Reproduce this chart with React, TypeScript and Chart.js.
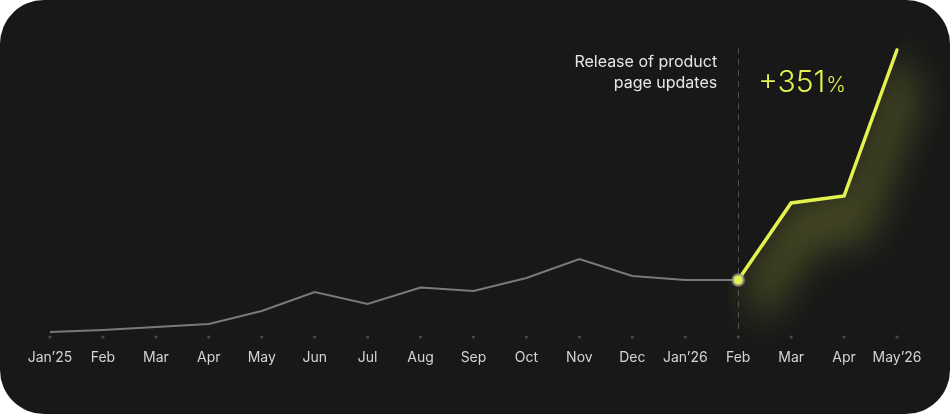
import React, { useEffect, useRef } from "react";
import { Chart, registerables } from "chart.js";

Chart.register(...registerables);

const months = ["Jan’25", "Feb", "Mar", "Apr", "May", "Jun", "Jul", "Aug", "Sep", "Oct", "Nov", "Dec", "Jan’26", "Feb", "Mar", "Apr", "May’26"];
const beforeRelease = [270, 310, 370, 430, 690, 1070, 830, 1160, 1090, 1350, 1730, 1390, 1310, 1310, null, null, null];
const afterRelease = [null, null, null, null, null, null, null, null, null, null, null, null, null, 1310, 2850, 2990, 5910];
const releaseIndex = 13;
const annotationLines = ["Release of product", "page updates"];
const growthValue = "+351";
const growthUnit = "%";

const YELLOW = "#e3f24f";
const FONT = "Inter, 'DejaVu Sans', sans-serif";

const decorPlugin = {
  id: "decor",
  beforeDatasetsDraw(chart: any) {
    const { ctx, chartArea, scales, width, height } = chart;
    const x = scales.x;
    const y = scales.y;
    ctx.save();
    // tick dots
    ctx.fillStyle = "#4a4a4a";
    for (let i = 0; i < months.length; i++) {
      const px = x.getPixelForTick(i);
      ctx.beginPath();
      ctx.arc(px, chartArea.bottom - 8.5, 1.6, 0, Math.PI * 2);
      ctx.fill();
    }
    // dashed release line
    const rx = x.getPixelForValue(releaseIndex);
    ctx.strokeStyle = "#4d4d4d";
    ctx.lineWidth = 1;
    ctx.setLineDash([6, 5]);
    ctx.beginPath();
    ctx.moveTo(Math.round(rx) + 0.5, chartArea.top + 8);
    ctx.lineTo(Math.round(rx) + 0.5, chartArea.bottom - 15);
    ctx.stroke();
    ctx.setLineDash([]);
    // glow below/right of yellow line
    const pts: [number, number][] = [];
    for (let i = releaseIndex; i < afterRelease.length; i++) {
      const v = afterRelease[i];
      if (v == null) continue;
      pts.push([x.getPixelForValue(i), y.getPixelForValue(v)]);
    }
    const last = pts[pts.length - 1];
    ctx.beginPath();
    pts.forEach((p, i) => (i === 0 ? ctx.moveTo(p[0], p[1]) : ctx.lineTo(p[0], p[1])));
    ctx.lineTo(last[0] + 20, last[1] - 60);
    ctx.lineTo(width, 0);
    ctx.lineTo(width, height);
    ctx.lineTo(pts[0][0] - 10, height);
    ctx.lineTo(pts[0][0] - 10, pts[0][1]);
    ctx.closePath();
    ctx.clip();
    ctx.filter = "blur(18px)";
    ctx.fillStyle = "rgba(227,242,79,0.22)";
    ctx.beginPath();
    pts.forEach((p, i) => (i === 0 ? ctx.moveTo(p[0] + 6, p[1] + 4) : ctx.lineTo(p[0], p[1] - 4)));
    for (let i = pts.length - 1; i >= 0; i--) {
      ctx.lineTo(pts[i][0] + 24, pts[i][1] + 46);
    }
    ctx.closePath();
    ctx.fill();
    ctx.filter = "none";
    ctx.restore();
  },
  afterDraw(chart: any) {
    const { ctx, scales } = chart;
    const rx = scales.x.getPixelForValue(releaseIndex);
    ctx.save();
    ctx.fillStyle = "#e6e6e6";
    ctx.font = `400 16px ${FONT}`;
    ctx.textAlign = "right";
    ctx.textBaseline = "alphabetic";
    ctx.fillText(annotationLines[0], rx - 21, 67);
    ctx.fillText(annotationLines[1], rx - 21, 88);
    ctx.textAlign = "left";
    ctx.fillStyle = YELLOW;
    ctx.font = `300 30px ${FONT}`;
    ctx.fillText(growthValue, rx + 20, 92);
    const w = ctx.measureText(growthValue).width;
    ctx.font = `300 21px ${FONT}`;
    ctx.fillText(growthUnit, rx + 21 + w, 92);
    ctx.restore();
  },
};

export default function App() {
  const ref = useRef<HTMLCanvasElement | null>(null);
  useEffect(() => {
    if (!ref.current) return;
    const chart = new Chart(ref.current, {
      type: "line",
      data: {
        labels: months,
        datasets: [
          {
            data: afterRelease,
            borderColor: YELLOW,
            borderWidth: 3.5,
            borderCapStyle: "round",
            borderJoinStyle: "miter",
            pointRadius: afterRelease.map((_, i) => (i === releaseIndex ? 5.5 : 0)),
            pointBackgroundColor: YELLOW,
            pointBorderColor: "rgba(140,140,140,0.6)",
            pointBorderWidth: 3,
            pointHoverRadius: 0,
            tension: 0,
            spanGaps: false,
            order: 0,
          },
          {
            data: beforeRelease,
            borderColor: "#7a7a7a",
            borderWidth: 2,
            pointRadius: 0,
            tension: 0,
            order: 1,
          },
        ],
      },
      options: {
        animation: false,
        responsive: true,
        maintainAspectRatio: false,
        layout: { padding: { left: 50, right: 53, top: 40, bottom: 28.5 } },
        plugins: { legend: { display: false }, tooltip: { enabled: false } },
        events: [],
        scales: {
          x: {
            offset: false,
            grid: { display: false, drawTicks: false },
            border: { display: false },
            ticks: {
              color: "#d4d4d4",
              font: { family: FONT, size: 14 },
              padding: 4,
              maxRotation: 0,
              autoSkip: false,
            },
            afterFit(scale: any) {
              scale.height = 40;
            },
          },
          y: {
            display: false,
            min: 0,
            max: 6110,
          },
        },
      },
      plugins: [decorPlugin],
    });
    return () => chart.destroy();
  }, []);
  return (
    <div
      style={{
        position: "fixed",
        left: 0,
        top: 0,
        width: 950,
        height: 414,
        background: "#fff",
      }}
    >
      <div
        style={{
          position: "absolute",
          inset: 0,
          background: "#181818",
          borderRadius: 44,
          overflow: "hidden",
        }}
      >
        <canvas ref={ref} />
      </div>
    </div>
  );
}
